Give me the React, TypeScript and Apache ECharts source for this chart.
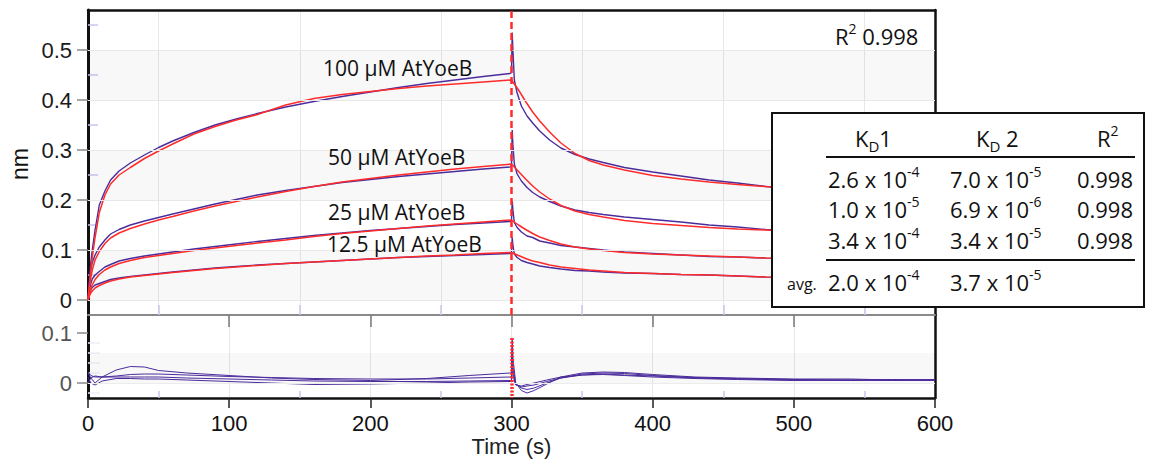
import React, { useEffect, useRef } from "react";
import * as echarts from "echarts";

// ---------- data ----------
const sensorTime = [
  0, 1, 2, 3, 5, 8, 12, 16, 22, 30, 40, 50, 60, 75, 90, 105, 120, 140, 160, 180, 200, 220, 240, 260, 280, 299,
  300, 300.5, 301, 302, 304, 307, 311, 315, 320, 327, 335, 345, 355, 365, 380, 400, 420, 440, 460, 480, 500, 530, 560, 600,
];
const sensor100 = [
  0, 0.04, 0.075, 0.1, 0.14, 0.19, 0.218, 0.24, 0.258, 0.274, 0.29, 0.305, 0.318, 0.335, 0.35, 0.362, 0.373, 0.386, 0.397, 0.407, 0.416, 0.425, 0.433, 0.44, 0.447, 0.453,
  0.455, 0.535, 0.5, 0.44, 0.414, 0.388, 0.368, 0.354, 0.338, 0.32, 0.304, 0.291, 0.282, 0.275, 0.265, 0.256, 0.248, 0.24, 0.234, 0.227, 0.222, 0.215, 0.209, 0.202,
];
const sensor50 = [
  0, 0.035, 0.06, 0.075, 0.09, 0.106, 0.12, 0.132, 0.141, 0.15, 0.158, 0.165, 0.172, 0.182, 0.192, 0.201, 0.21, 0.219, 0.227, 0.235, 0.241, 0.247, 0.252, 0.257, 0.262, 0.266,
  0.268, 0.34, 0.31, 0.272, 0.252, 0.238, 0.225, 0.215, 0.206, 0.197, 0.188, 0.18, 0.175, 0.171, 0.166, 0.161, 0.156, 0.15, 0.146, 0.141, 0.138, 0.134, 0.13, 0.126,
];
const sensor25 = [
  0, 0.02, 0.033, 0.042, 0.05, 0.057, 0.066, 0.071, 0.078, 0.083, 0.088, 0.092, 0.096, 0.102, 0.107, 0.112, 0.117, 0.123, 0.129, 0.134, 0.139, 0.143, 0.147, 0.151, 0.154, 0.157,
  0.158, 0.2, 0.18, 0.155, 0.145, 0.136, 0.128, 0.125, 0.118, 0.114, 0.109, 0.106, 0.103, 0.1, 0.096, 0.093, 0.09, 0.087, 0.086, 0.084, 0.083, 0.081, 0.079, 0.077,
];
const sensor12 = [
  0, 0.012, 0.02, 0.025, 0.03, 0.033, 0.037, 0.041, 0.044, 0.047, 0.05, 0.053, 0.056, 0.06, 0.064, 0.067, 0.07, 0.073, 0.076, 0.079, 0.082, 0.085, 0.087, 0.089, 0.091, 0.093,
  0.094, 0.125, 0.11, 0.092, 0.085, 0.079, 0.075, 0.072, 0.068, 0.065, 0.062, 0.059, 0.058, 0.056, 0.054, 0.053, 0.051, 0.05, 0.048, 0.046, 0.045, 0.044, 0.043, 0.041,
];

const fitTime = [
  0, 1, 2, 3, 5, 8, 12, 16, 22, 30, 40, 50, 60, 75, 90, 105, 120, 140, 160, 180, 200, 220, 240, 260, 280, 300,
  305, 310, 315, 320, 327, 335, 345, 355, 365, 380, 400, 420, 440, 460, 480, 500, 530, 560, 600,
];
const fit100 = [
  0, 0.03, 0.06, 0.085, 0.125, 0.175, 0.21, 0.232, 0.25, 0.265, 0.283, 0.298, 0.312, 0.332, 0.347, 0.36, 0.371, 0.39, 0.403, 0.411, 0.417, 0.423, 0.428, 0.432, 0.436, 0.44,
  0.42, 0.397, 0.376, 0.358, 0.336, 0.314, 0.293, 0.279, 0.27, 0.26, 0.249, 0.242, 0.236, 0.231, 0.227, 0.222, 0.216, 0.211, 0.205,
];
const fit50 = [
  0, 0.025, 0.045, 0.06, 0.08, 0.097, 0.113, 0.124, 0.134, 0.143, 0.152, 0.16, 0.167, 0.178, 0.188, 0.197, 0.206, 0.217, 0.227, 0.236, 0.243, 0.25, 0.256, 0.262, 0.267, 0.272,
  0.257, 0.242, 0.228, 0.216, 0.202, 0.189, 0.178, 0.171, 0.166, 0.159, 0.153, 0.149, 0.145, 0.142, 0.14, 0.137, 0.134, 0.131, 0.127,
];
const fit25 = [
  0, 0.012, 0.022, 0.03, 0.041, 0.051, 0.06, 0.066, 0.073, 0.079, 0.085, 0.089, 0.093, 0.099, 0.104, 0.109, 0.114, 0.12, 0.127, 0.133, 0.138, 0.143, 0.148, 0.152, 0.156, 0.16,
  0.15, 0.141, 0.133, 0.126, 0.119, 0.112, 0.106, 0.102, 0.099, 0.095, 0.092, 0.09, 0.088, 0.086, 0.084, 0.083, 0.081, 0.079, 0.077,
];
const fit12 = [
  0, 0.008, 0.014, 0.018, 0.024, 0.029, 0.034, 0.038, 0.042, 0.046, 0.049, 0.052, 0.055, 0.059, 0.063, 0.066, 0.069, 0.073, 0.076, 0.079, 0.082, 0.085, 0.088, 0.09, 0.093, 0.095,
  0.089, 0.083, 0.078, 0.075, 0.07, 0.066, 0.063, 0.06, 0.058, 0.055, 0.053, 0.051, 0.05, 0.048, 0.046, 0.045, 0.044, 0.042, 0.041,
];

const residTime = [
  0, 2, 5, 10, 20, 30, 40, 50, 70, 100, 130, 160, 200, 240, 270, 299, 300, 300.5, 301, 303, 307, 311, 316, 325, 335, 350, 365, 380, 400, 430, 460, 500, 540, 570, 600,
];
const residA = [
  0.02, 0.01, 0.0, 0.012, 0.026, 0.033, 0.032, 0.025, 0.02, 0.015, 0.01, 0.007, 0.005, 0.009, 0.015, 0.02, 0.02, 0.09, 0.05, 0.0,
  -0.015, -0.02, -0.015, -0.002, 0.012, 0.02, 0.022, 0.021, 0.017, 0.012, 0.01, 0.008, 0.008, 0.006, 0.007,
];
const residB = [
  0.022, 0.015, 0.012, 0.012, 0.014, 0.017, 0.018, 0.018, 0.016, 0.013, 0.011, 0.009, 0.008, 0.008, 0.01, 0.012, 0.012, 0.075, 0.03, -0.002,
  -0.01, -0.013, -0.01, 0.0, 0.01, 0.018, 0.02, 0.019, 0.015, 0.011, 0.009, 0.007, 0.006, 0.007, 0.006,
];
const residC = [
  0.0, 0.01, 0.014, 0.012, 0.012, 0.012, 0.012, 0.012, 0.01, 0.008, 0.006, 0.004, 0.003, 0.003, 0.004, 0.005, 0.005, 0.06, 0.02, -0.003,
  -0.008, -0.006, -0.004, 0.003, 0.01, 0.016, 0.018, 0.016, 0.014, 0.01, 0.008, 0.006, 0.005, 0.006, 0.005,
];
const residD = [
  0.012, 0.0, -0.004, 0.004, 0.009, 0.009, 0.008, 0.008, 0.006, 0.003, 0.0, -0.003, -0.002, 0.0, 0.002, 0.003, 0.003, 0.05, 0.015, -0.004,
  -0.006, -0.003, 0.0, 0.006, 0.012, 0.016, 0.017, 0.015, 0.012, 0.009, 0.007, 0.005, 0.006, 0.005, 0.006,
];

const concLabels = ["100 µM AtYoeB", "50 µM AtYoeB", "25 µM AtYoeB", "12.5 µM AtYoeB"];
const yTicksMain = [0, 0.1, 0.2, 0.3, 0.4, 0.5];
const yMinorMain = [0.05, 0.15, 0.25, 0.35, 0.45, 0.55];
const yTicksResid = [0, 0.1];
const yMinorResid = [-0.02, 0.02, 0.04, 0.06, 0.08];
const xMinor = [50, 150, 250, 350, 450, 550];
const xSepTicks = [100, 200, 300, 400, 500];
const injectTime = 300;

const kd1Mant = ["2.6", "1.0", "3.4"];
const kd1Exp = ["-4", "-5", "-4"];
const kd2Mant = ["7.0", "6.9", "3.4"];
const kd2Exp = ["-5", "-6", "-5"];
const r2Values = ["0.998", "0.998", "0.998"];
const avgKd1 = ["2.0", "-4"];
const avgKd2 = ["3.7", "-5"];
const overallR2 = "0.998";

// ---------- styling ----------
const AXIS_FONT = "'Liberation Sans', Arial, sans-serif";
const TXT_FONT = "'Open Sans', sans-serif";
const PURPLE = "#4b2c9c";
const RED = "#ff2b2b";
const LAVENDER = "#cbc5ec";
const BAND = "rgba(0,0,0,0.028)";

const pairs = (t: number[], v: number[]) => t.map((x, i) => [x, v[i]]);

const rich = {
  n: { fontSize: 22, fontFamily: TXT_FONT, lineHeight: 30, fill: "#111" },
  s: { fontSize: 14, fontFamily: TXT_FONT, lineHeight: 18, verticalAlign: "top", fill: "#111" },
  d: { fontSize: 15, fontFamily: TXT_FONT, lineHeight: 18, verticalAlign: "bottom", fill: "#111" },
};

function txt(text: string, x: number, y: number, align = "left", extra: any = {}) {
  return {
    type: "text",
    x,
    y,
    z: 102,
    style: { text, rich, align, verticalAlign: "middle", fill: "#111", fontSize: 22, fontFamily: TXT_FONT, ...extra },
  };
}

export default function App() {
  const ref = useRef<HTMLDivElement>(null);
  useEffect(() => {
    const chart = echarts.init(ref.current!, undefined, { renderer: "svg" });

    const mainSeriesData = [sensor100, sensor50, sensor25, sensor12];
    const fitSeriesData = [fit100, fit50, fit25, fit12];
    const residSeriesData = [residA, residB, residC, residD];

    const series: any[] = [];
    mainSeriesData.forEach((v, i) => {
      const s: any = {
        type: "line",
        name: "sensor " + concLabels[i],
        xAxisIndex: 0,
        yAxisIndex: 0,
        data: pairs(sensorTime, v),
        symbol: "none",
        silent: true,
        z: 3,
        lineStyle: { color: PURPLE, width: 1.4 },
      };
      if (i === 0) {
        s.markArea = {
          silent: true,
          itemStyle: { color: BAND },
          data: [
            [{ yAxis: 0 }, { yAxis: 0.1 }],
            [{ yAxis: 0.2 }, { yAxis: 0.3 }],
            [{ yAxis: 0.4 }, { yAxis: 0.5 }],
          ],
        };
        s.markLine = {
          silent: true,
          symbol: ["none", "none"],
          label: { show: false },
          data: [
            ...yTicksMain.map((y) => ({ yAxis: y, lineStyle: { color: "#e8e8e8", width: 1, type: "solid" } })),
            { xAxis: injectTime, lineStyle: { color: RED, width: 2.5, type: [7, 4] } },
          ],
        };
      }
      series.push(s);
    });
    fitSeriesData.forEach((v, i) => {
      series.push({
        type: "line",
        name: "fit " + concLabels[i],
        xAxisIndex: 0,
        yAxisIndex: 0,
        data: pairs(fitTime, v),
        symbol: "none",
        silent: true,
        z: 4,
        lineStyle: { color: RED, width: 1.5 },
      });
    });
    residSeriesData.forEach((v, i) => {
      const s: any = {
        type: "line",
        name: "residual " + i,
        xAxisIndex: 2,
        yAxisIndex: 3,
        data: pairs(residTime, v),
        symbol: "none",
        silent: true,
        z: 3,
        lineStyle: { color: PURPLE, width: 1 },
      };
      if (i === 0) {
        s.markArea = {
          silent: true,
          itemStyle: { color: BAND },
          data: [[{ yAxis: 0 }, { yAxis: 0.06 }]],
        };
        s.markLine = {
          silent: true,
          symbol: ["none", "none"],
          label: { show: false },
          data: [
            { yAxis: 0, lineStyle: { color: "#ececec", width: 1, type: "solid" } },
            [
              { coord: [injectTime, 0.09], lineStyle: { color: RED, width: 3.5, type: [2, 1.5] } },
              { coord: [injectTime, -0.03] },
            ],
          ],
        };
      }
      series.push(s);
    });

    const hidden = { show: false };
    const xBase = { type: "value", min: 0, max: 600 };
    const yMainBase = { type: "value", gridIndex: 0, min: -0.03, max: 0.58 };
    const yResBase = { type: "value", gridIndex: 1, min: -0.03, max: 0.136 };

    const table: any[] = [
      {
        type: "rect",
        z: 100,
        shape: { x: 772, y: 113, width: 372, height: 194 },
        style: { fill: "#fff", stroke: "#111", lineWidth: 2 },
      },
      txt("{n|K}{d|D}{n|1}", 855, 138),
      txt("{n|K}{d|D}{n| 2}", 976, 138),
      txt("{n|R}{s|2}", 1097, 138),
      { type: "line", z: 101, shape: { x1: 826, y1: 157, x2: 1135, y2: 157 }, style: { stroke: "#111", lineWidth: 2 } },
      { type: "line", z: 101, shape: { x1: 826, y1: 260, x2: 1135, y2: 260 }, style: { stroke: "#111", lineWidth: 2 } },
    ];
    const rowY = [179, 209, 240];
    rowY.forEach((y, i) => {
      table.push(txt(`{n|${kd1Mant[i]} x 10}{s|${kd1Exp[i]}}`, 828, y));
      table.push(txt(`{n|${kd2Mant[i]} x 10}{s|${kd2Exp[i]}}`, 950, y));
      table.push(txt(`{n|${r2Values[i]}}`, 1133, y, "right"));
    });
    table.push(txt("avg.", 787, 284, "left", { fontSize: 16, rich: undefined }));
    table.push(txt(`{n|${avgKd1[0]} x 10}{s|${avgKd1[1]}}`, 828, 282));
    table.push(txt(`{n|${avgKd2[0]} x 10}{s|${avgKd2[1]}}`, 950, 282));

    const labelPos = [
      [323, 68],
      [328, 157],
      [328, 212],
      [327, 244],
    ];
    const labels = concLabels.map((t, i) => ({
      type: "text",
      x: labelPos[i][0],
      y: labelPos[i][1],
      z: 50,
      style: { text: t, fontSize: 21, fontFamily: TXT_FONT, fill: "#111", align: "left", verticalAlign: "middle" },
    }));

    const option: any = {
      animation: false,
      backgroundColor: "#fff",
      grid: [
        { left: 88, top: 10, width: 847, height: 305, containLabel: false },
        { left: 88, top: 315, width: 847, height: 83, containLabel: false },
      ],
      xAxis: [
        {
          ...xBase,
          gridIndex: 0,
          interval: 100,
          position: "bottom",
          axisLine: { show: false, onZero: false },
          axisTick: { show: true, inside: true, customValues: xMinor, length: 10, lineStyle: { color: LAVENDER, width: 1.5 } },
          axisLabel: hidden,
          splitLine: { show: true, lineStyle: { color: "#e8e8e8", width: 1 } },
        },
        {
          ...xBase,
          gridIndex: 0,
          position: "top",
          axisLine: { show: true, onZero: false, lineStyle: { color: "#111", width: 2.5 } },
          axisTick: hidden,
          axisLabel: hidden,
          splitLine: hidden,
        },
        {
          ...xBase,
          gridIndex: 1,
          interval: 100,
          position: "bottom",
          axisLine: { show: true, onZero: false, lineStyle: { color: "#111", width: 2.5 } },
          axisTick: { show: true, length: 10, lineStyle: { color: "#222", width: 1.5 } },
          axisLabel: { show: true, fontSize: 22, color: "#111", fontFamily: AXIS_FONT, margin: 14 },
          splitLine: { show: true, lineStyle: { color: "#e8e8e8", width: 1 } },
          name: "Time (s)",
          nameLocation: "middle",
          nameGap: 37,
          nameTextStyle: { fontSize: 22, color: "#222", fontFamily: AXIS_FONT },
        },
        {
          ...xBase,
          gridIndex: 1,
          position: "top",
          axisLine: { show: true, onZero: false, lineStyle: { color: "#8a8a8a", width: 2 } },
          axisTick: { show: true, inside: true, customValues: xSepTicks, length: 12, lineStyle: { color: "#777", width: 1.5 } },
          axisLabel: hidden,
          splitLine: hidden,
        },
        {
          ...xBase,
          gridIndex: 1,
          position: "bottom",
          axisLine: { show: false, onZero: false },
          axisTick: { show: true, inside: true, customValues: xMinor, length: 7, lineStyle: { color: LAVENDER, width: 1.5 } },
          axisLabel: hidden,
          splitLine: hidden,
        },
      ],
      yAxis: [
        {
          ...yMainBase,
          position: "left",
          axisLine: { show: true, onZero: false, lineStyle: { color: "#111", width: 3 } },
          axisTick: { show: true, customValues: yTicksMain, length: 11, lineStyle: { color: "#888", width: 1.5 } },
          axisLabel: { show: true, customValues: yTicksMain, fontSize: 22, color: "#1a1a1a", fontFamily: AXIS_FONT, margin: 16 },
          splitLine: hidden,
        },
        {
          ...yMainBase,
          position: "left",
          axisLine: { show: false, onZero: false },
          axisTick: { show: true, inside: true, customValues: yMinorMain, length: 10, lineStyle: { color: LAVENDER, width: 1.5 } },
          axisLabel: hidden,
          splitLine: hidden,
        },
        {
          ...yMainBase,
          position: "right",
          axisLine: { show: true, onZero: false, lineStyle: { color: "#111", width: 2.5 } },
          axisTick: hidden,
          axisLabel: hidden,
          splitLine: hidden,
        },
        {
          ...yResBase,
          position: "left",
          axisLine: { show: true, onZero: false, lineStyle: { color: "#111", width: 3 } },
          axisTick: { show: true, customValues: yTicksResid, length: 11, lineStyle: { color: "#888", width: 1.5 } },
          axisLabel: { show: true, customValues: yTicksResid, fontSize: 22, color: "#555", fontFamily: AXIS_FONT, margin: 16 },
          splitLine: hidden,
        },
        {
          ...yResBase,
          position: "left",
          axisLine: { show: false, onZero: false },
          axisTick: { show: true, inside: true, customValues: yMinorResid, length: 12, lineStyle: { color: "#eeeef8", width: 1.5 } },
          axisLabel: hidden,
          splitLine: hidden,
        },
        {
          ...yResBase,
          position: "right",
          axisLine: { show: true, onZero: false, lineStyle: { color: "#111", width: 2.5 } },
          axisTick: hidden,
          axisLabel: hidden,
          splitLine: hidden,
        },
      ],
      series,
      graphic: [
        ...labels,
        {
          type: "text",
          x: 20,
          y: 164,
          rotation: Math.PI / 2,
          z: 50,
          style: { text: "nm", fontSize: 23, fontFamily: AXIS_FONT, fill: "#111", align: "center", verticalAlign: "middle" },
        },
        txt(`{n|R}{s|2}{n| ${overallR2}}`, 835, 36),
        ...table,
      ],
    };

    chart.setOption(option);
    return () => chart.dispose();
  }, []);

  return (
    <div
      ref={ref}
      style={{ position: "absolute", left: 0, top: 0, width: 1150, height: 460, background: "#fff" }}
    />
  );
}
